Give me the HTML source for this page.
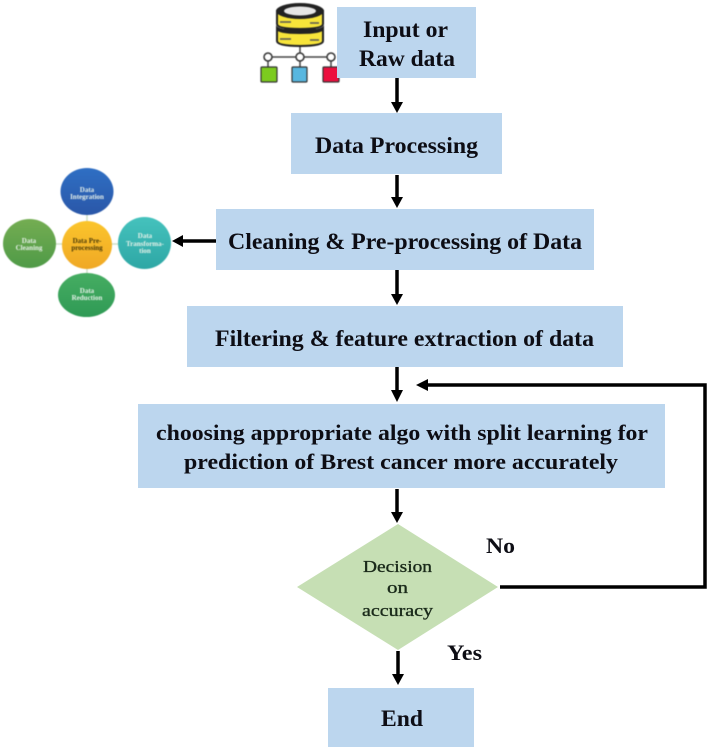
<!DOCTYPE html>
<html>
<head>
<meta charset="utf-8">
<style>
html,body{margin:0;padding:0;background:#fff;width:708px;height:749px;overflow:hidden}
svg{display:block}
text{font-family:"Liberation Serif",serif;font-weight:bold;fill:#0d0d14;text-anchor:start}
.c text{text-anchor:middle}
.b{fill:#bcd6ee}
.l{stroke:#000;stroke-width:3.5;fill:none}
.h{fill:#000}
.s{font-size:7px;fill:#e8f2ea}
.t{filter:blur(.35px)}
.m{filter:blur(.5px)}
.d{font-weight:normal;stroke:#1a2a1a;stroke-width:.35px;fill:#1a2a1a}
</style>
</head>
<body>
<svg width="708" height="749" viewBox="0 0 708 749">
<defs>
<linearGradient id="gb" x1="0" y1="0" x2="0" y2="1"><stop offset="0" stop-color="#2f6fc4"/><stop offset="1" stop-color="#2a57a8"/></linearGradient>
<linearGradient id="gg" x1="0" y1="0" x2="0" y2="1"><stop offset="0" stop-color="#74ad52"/><stop offset="1" stop-color="#4f9a47"/></linearGradient>
<linearGradient id="gy" x1="0" y1="0" x2="0" y2="1"><stop offset="0" stop-color="#fbc52c"/><stop offset="1" stop-color="#f0a825"/></linearGradient>
<linearGradient id="gt" x1="0" y1="0" x2="0" y2="1"><stop offset="0" stop-color="#45c2bd"/><stop offset="1" stop-color="#2ea7a5"/></linearGradient>
<linearGradient id="gd" x1="0" y1="0" x2="0" y2="1"><stop offset="0" stop-color="#46ad62"/><stop offset="1" stop-color="#2f9a55"/></linearGradient>
</defs>

<!-- database icon -->
<g class="m">
<path d="M300 45V57M268 57H331M268 57V67M300 57V67M331 57V67" stroke="#444" stroke-width="1.500" fill="none"/>
<path d="M277 30V41Q277 46 300 46Q323 46 323 41V30Z" fill="#f7e43a" stroke="#222" stroke-width="2"/>
<path d="M277 11V24Q277 29 300 29Q323 29 323 24V11Z" fill="#f7e43a" stroke="#222" stroke-width="2"/>
<path d="M276 25Q277 30 300 30Q323 30 324 25V29Q323 34 300 34Q277 34 276 29Z" fill="#222"/>
<ellipse cx="300" cy="11" rx="24" ry="8" fill="#222"/>
<ellipse cx="300" cy="11" rx="16" ry="4.500" fill="#e6e6e6"/>
<path d="M280 22h11M310 23h9M280 39h11M310 40h9" stroke="#555" stroke-width="1.500"/>
<circle cx="268" cy="57" r="4" fill="#fff" stroke="#333" stroke-width="1.500"/>
<circle cx="300" cy="57" r="4" fill="#fff" stroke="#333" stroke-width="1.500"/>
<circle cx="331" cy="57" r="4" fill="#fff" stroke="#333" stroke-width="1.500"/>
<rect x="261" y="67" width="16" height="15" rx="1" fill="#7ccb1f" stroke="#333" stroke-width="1.200"/>
<rect x="292" y="67" width="15" height="15" rx="1" fill="#58b7e0" stroke="#333" stroke-width="1.200"/>
<rect x="323" y="67" width="16" height="15" rx="1" fill="#ec0f3e" stroke="#333" stroke-width="1.200"/>
</g>

<!-- boxes -->
<rect class="b" x="337" y="7" width="139" height="71"/>
<rect class="b" x="291" y="113" width="211" height="61"/>
<rect class="b" x="216" y="209" width="378" height="61"/>
<rect class="b" x="187" y="306" width="436" height="61"/>
<rect class="b" x="138" y="404" width="527" height="84"/>
<rect class="b" x="328" y="688" width="146" height="59"/>
<polygon points="398,524 498,587 398,650 297,587" fill="#c6dfb4"/>

<!-- connectors -->
<path class="l" d="M397 78V104"/><polygon class="h" points="391,102 403,102 397,113"/>
<path class="l" d="M397 175V199"/><polygon class="h" points="391,197 403,197 397,208"/>
<path class="l" d="M397 270V296"/><polygon class="h" points="391,294 403,294 397,305"/>
<path class="l" d="M397 367V393"/><polygon class="h" points="391,390 403,390 397,402"/>
<path class="l" d="M397 489V514"/><polygon class="h" points="391,512 403,512 397,523"/>
<path class="l" d="M398 651V676"/><polygon class="h" points="392,674 404,674 398,685"/>
<path class="l" d="M216 241H180"/><polygon class="h" points="183,235 183,247 172,241"/>
<path class="l" d="M500 587H705V385H426"/><polygon class="h" points="428,379 428,391 416,385"/>

<!-- box labels -->
<g class="t">
<text x="363" y="37" font-size="23" textLength="85" lengthAdjust="spacingAndGlyphs">Input or</text>
<text x="359" y="66" font-size="23" textLength="96" lengthAdjust="spacingAndGlyphs">Raw data</text>
<text x="315" y="153" font-size="23" textLength="163" lengthAdjust="spacingAndGlyphs">Data Processing</text>
<text x="228" y="249" font-size="23" textLength="354" lengthAdjust="spacingAndGlyphs">Cleaning &amp; Pre-processing of Data</text>
<text x="215" y="346" font-size="23" textLength="379" lengthAdjust="spacingAndGlyphs">Filtering &amp; feature extraction of data</text>
<text x="156" y="440" font-size="22" textLength="492" lengthAdjust="spacingAndGlyphs">choosing appropriate algo with split learning for</text>
<text x="184" y="469" font-size="22" textLength="434" lengthAdjust="spacingAndGlyphs">prediction of Brest cancer more accurately</text>
<text class="d" x="363" y="572" font-size="17" textLength="69" lengthAdjust="spacingAndGlyphs">Decision</text>
<text class="d" x="387" y="593" font-size="17" textLength="21" lengthAdjust="spacingAndGlyphs">on</text>
<text class="d" x="362" y="616" font-size="17" textLength="71" lengthAdjust="spacingAndGlyphs">accuracy</text>
<text x="381" y="726" font-size="23" textLength="42" lengthAdjust="spacingAndGlyphs">End</text>
<text x="486" y="553" font-size="22" textLength="29" lengthAdjust="spacingAndGlyphs">No</text>
<text x="447" y="660" font-size="22" textLength="35" lengthAdjust="spacingAndGlyphs">Yes</text>
</g>

<!-- pre-processing cluster -->
<g class="m c">
<path d="M87 215V285M30 244H145" stroke="#cfe0c8" stroke-width="1.500"/>
<ellipse cx="87" cy="191.500" rx="26.500" ry="23.500" fill="url(#gb)"/>
<ellipse cx="29.500" cy="243.500" rx="26.500" ry="24.500" fill="url(#gg)"/>
<ellipse cx="87" cy="245" rx="25" ry="24" fill="url(#gy)"/>
<ellipse cx="144.500" cy="243" rx="26.500" ry="26" fill="url(#gt)"/>
<ellipse cx="86.500" cy="295" rx="28.500" ry="22" fill="url(#gd)"/>
<text class="s" x="87" y="192">Data</text>
<text class="s" x="87" y="199">Integration</text>
<text class="s" x="29" y="243">Data</text>
<text class="s" x="29" y="250">Cleaning</text>
<text x="87" y="243" font-size="7" style="fill:#4a3a08">Data Pre-</text>
<text x="87" y="250" font-size="7" style="fill:#4a3a08">processing</text>
<text class="s" x="145" y="238">Data</text>
<text class="s" x="145" y="246">Transforma-</text>
<text class="s" x="145" y="253">tion</text>
<text class="s" x="87" y="293">Data</text>
<text class="s" x="87" y="300">Reduction</text>
</g>
</svg>
</body>
</html>
